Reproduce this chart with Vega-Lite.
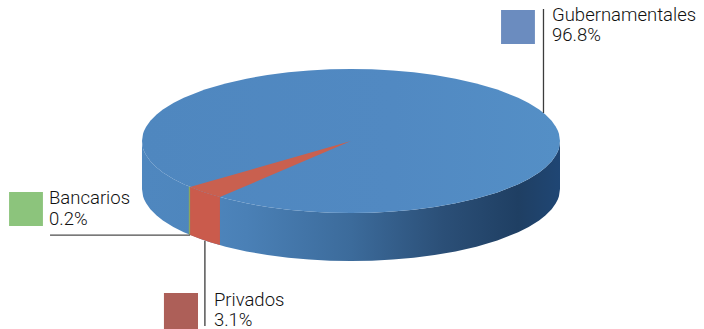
{
"$schema":"https://vega.github.io/schema/vega-lite/v6.json",
"width":704,"height":329,"padding":0,"autosize":{"type":"none"},"background":"white",
"config":{"view":{"stroke":null}},
"encoding":{
 "x":{"field":"u","type":"quantitative","axis":null,"scale":{"domain":[-167.94,168.9],"nice":false,"zero":false}},
 "y":{"field":"v","type":"quantitative","axis":null,"scale":{"domain":[-261.1,195.83],"nice":false,"zero":false}}
},
"datasets":{
 "side":[{"u":-100,"v":0,"v2":-66.7},{"u":-99.5,"v":-10,"v2":-76.7},{"u":-99,"v":-14.1,"v2":-80.8},{"u":-98,"v":-19.9,"v2":-86.6},{"u":-96,"v":-28,"v2":-94.7},{"u":-93,"v":-36.8,"v2":-103.5},{"u":-90,"v":-43.6,"v2":-110.3},{"u":-85,"v":-52.7,"v2":-119.4},{"u":-80,"v":-60,"v2":-126.7},{"u":-70,"v":-71.4,"v2":-138.1},{"u":-60,"v":-80,"v2":-146.7},{"u":-50,"v":-86.6,"v2":-153.3},{"u":-40,"v":-91.7,"v2":-158.4},{"u":-30,"v":-95.4,"v2":-162.1},{"u":-20,"v":-98,"v2":-164.7},{"u":-10,"v":-99.5,"v2":-166.2},{"u":0,"v":-100,"v2":-166.7},{"u":10,"v":-99.5,"v2":-166.2},{"u":20,"v":-98,"v2":-164.7},{"u":30,"v":-95.4,"v2":-162.1},{"u":40,"v":-91.7,"v2":-158.4},{"u":50,"v":-86.6,"v2":-153.3},{"u":60,"v":-80,"v2":-146.7},{"u":70,"v":-71.4,"v2":-138.1},{"u":80,"v":-60,"v2":-126.7},{"u":85,"v":-52.7,"v2":-119.4},{"u":90,"v":-43.6,"v2":-110.3},{"u":93,"v":-36.8,"v2":-103.5},{"u":96,"v":-28,"v2":-94.7},{"u":98,"v":-19.9,"v2":-86.6},{"u":99,"v":-14.1,"v2":-80.8},{"u":99.5,"v":-10,"v2":-76.7},{"u":100,"v":0,"v2":-66.7}],
 "top":[{"u":-100,"v":0,"v2":0},{"u":-99.5,"v":10,"v2":-10},{"u":-99,"v":14.1,"v2":-14.1},{"u":-98,"v":19.9,"v2":-19.9},{"u":-96,"v":28,"v2":-28},{"u":-93,"v":36.8,"v2":-36.8},{"u":-90,"v":43.6,"v2":-43.6},{"u":-85,"v":52.7,"v2":-52.7},{"u":-80,"v":60,"v2":-60},{"u":-70,"v":71.4,"v2":-71.4},{"u":-60,"v":80,"v2":-80},{"u":-50,"v":86.6,"v2":-86.6},{"u":-40,"v":91.7,"v2":-91.7},{"u":-30,"v":95.4,"v2":-95.4},{"u":-20,"v":98,"v2":-98},{"u":-10,"v":99.5,"v2":-99.5},{"u":0,"v":100,"v2":-100},{"u":10,"v":99.5,"v2":-99.5},{"u":20,"v":98,"v2":-98},{"u":30,"v":95.4,"v2":-95.4},{"u":40,"v":91.7,"v2":-91.7},{"u":50,"v":86.6,"v2":-86.6},{"u":60,"v":80,"v2":-80},{"u":70,"v":71.4,"v2":-71.4},{"u":80,"v":60,"v2":-60},{"u":85,"v":52.7,"v2":-52.7},{"u":90,"v":43.6,"v2":-43.6},{"u":93,"v":36.8,"v2":-36.8},{"u":96,"v":28,"v2":-28},{"u":98,"v":19.9,"v2":-19.9},{"u":99,"v":14.1,"v2":-14.1},{"u":99.5,"v":10,"v2":-10},{"u":100,"v":0,"v2":0}],
 "wedgeTop":[{"u":-77,"v":-63.8,"v2":-63.8},{"u":-72,"v":-59.7,"v2":-69.4},{"u":-67,"v":-55.5,"v2":-74.2},{"u":-62.7,"v":-52,"v2":-77.9},{"u":0,"v":0,"v2":0}],
 "wedgeSide":[{"u":-77,"v":-63.8,"v2":-130.5},{"u":-72,"v":-69.4,"v2":-136.1},{"u":-67,"v":-74.2,"v2":-140.9},{"u":-62.7,"v":-77.9,"v2":-144.6}],
 "greenSide":[{"u":-77.6,"v":-63.1,"v2":-129.8},{"u":-77,"v":-63.8,"v2":-130.5}],
 "swatches":[{"name":"Gubernamentales","u":71.8,"u2":88,"v":181.9,"v2":134.7,"c":"#6b8cbf"},{"name":"Bancarios","u":-163.6,"u2":-147.4,"v":-70.8,"v2":-118.1,"c":"#8cc47c"},{"name":"Privados","u":-89.5,"u2":-73.2,"v":-211.1,"v2":-261.1,"c":"#ad5f58"}],
 "labels":[{"u":96.2,"v":166.7,"t":"Gubernamentales"},{"u":96.2,"v":138.9,"t":"96.8%"},{"u":-144.5,"v":-87.5,"t":"Bancarios"},{"u":-144.5,"v":-116.7,"t":"0.2%"},{"u":-65.6,"v":-229.2,"t":"Privados"},{"u":-65.6,"v":-257.5,"t":"3.1%"}]
},
"layer":[
 {"data":{"name":"side"},"mark":{"type":"area","orient":"vertical","color":{"gradient":"linear","x1":0,"x2":1,"y1":0,"y2":0,"stops":[{"offset":0,"color":"#4f87bf"},{"offset":0.14,"color":"#4e86bd"},{"offset":0.25,"color":"#4a80b6"},{"offset":0.5,"color":"#3c6b9b"},{"offset":0.72,"color":"#2b4f77"},{"offset":0.9,"color":"#1f3f63"},{"offset":1,"color":"#1f4674"}]}},"encoding":{"y2":{"field":"v2"}}},
 {"data":{"name":"top"},"mark":{"type":"area","orient":"vertical","color":{"gradient":"linear","x1":0,"x2":1,"y1":0,"y2":0,"stops":[{"offset":0,"color":"#4f87bf"},{"offset":0.6,"color":"#5189c2"},{"offset":1,"color":"#548fc6"}]}},"encoding":{"y2":{"field":"v2"}}},
 {"data":{"name":"wedgeTop"},"mark":{"type":"area","orient":"vertical","color":"#c9604f"},"encoding":{"y2":{"field":"v2"}}},
 {"data":{"name":"wedgeSide"},"mark":{"type":"area","orient":"vertical","color":"#ca5b4c"},"encoding":{"y2":{"field":"v2"}}},
 {"data":{"name":"greenSide"},"mark":{"type":"area","orient":"vertical","color":"#8aa85f"},"encoding":{"y2":{"field":"v2"}}},
 {"data":{"values":[{"u":-144,"u2":-77,"v":-130.6}]},"mark":{"type":"rule","color":"#4d4d4d","strokeWidth":1.3},"encoding":{"x2":{"field":"u2"}}},
 {"data":{"values":[{"u":-69.9,"v":-138.9,"v2":-256.9},{"u":92.1,"v":183.3,"v2":38.9}]},"mark":{"type":"rule","color":"#3c3c3c","strokeWidth":1.3},"encoding":{"y2":{"field":"v2"}}},
 {"data":{"name":"swatches"},"mark":{"type":"rect"},"encoding":{"x2":{"field":"u2"},"y2":{"field":"v2"},"color":{"field":"c","type":"nominal","scale":null,"legend":null}}},
 {"data":{"name":"labels"},"mark":{"type":"text","align":"left","baseline":"alphabetic","font":"Roboto","fontSize":18.5,"fontWeight":300,"color":"#111111"},"encoding":{"text":{"field":"t"}}}
]
}
